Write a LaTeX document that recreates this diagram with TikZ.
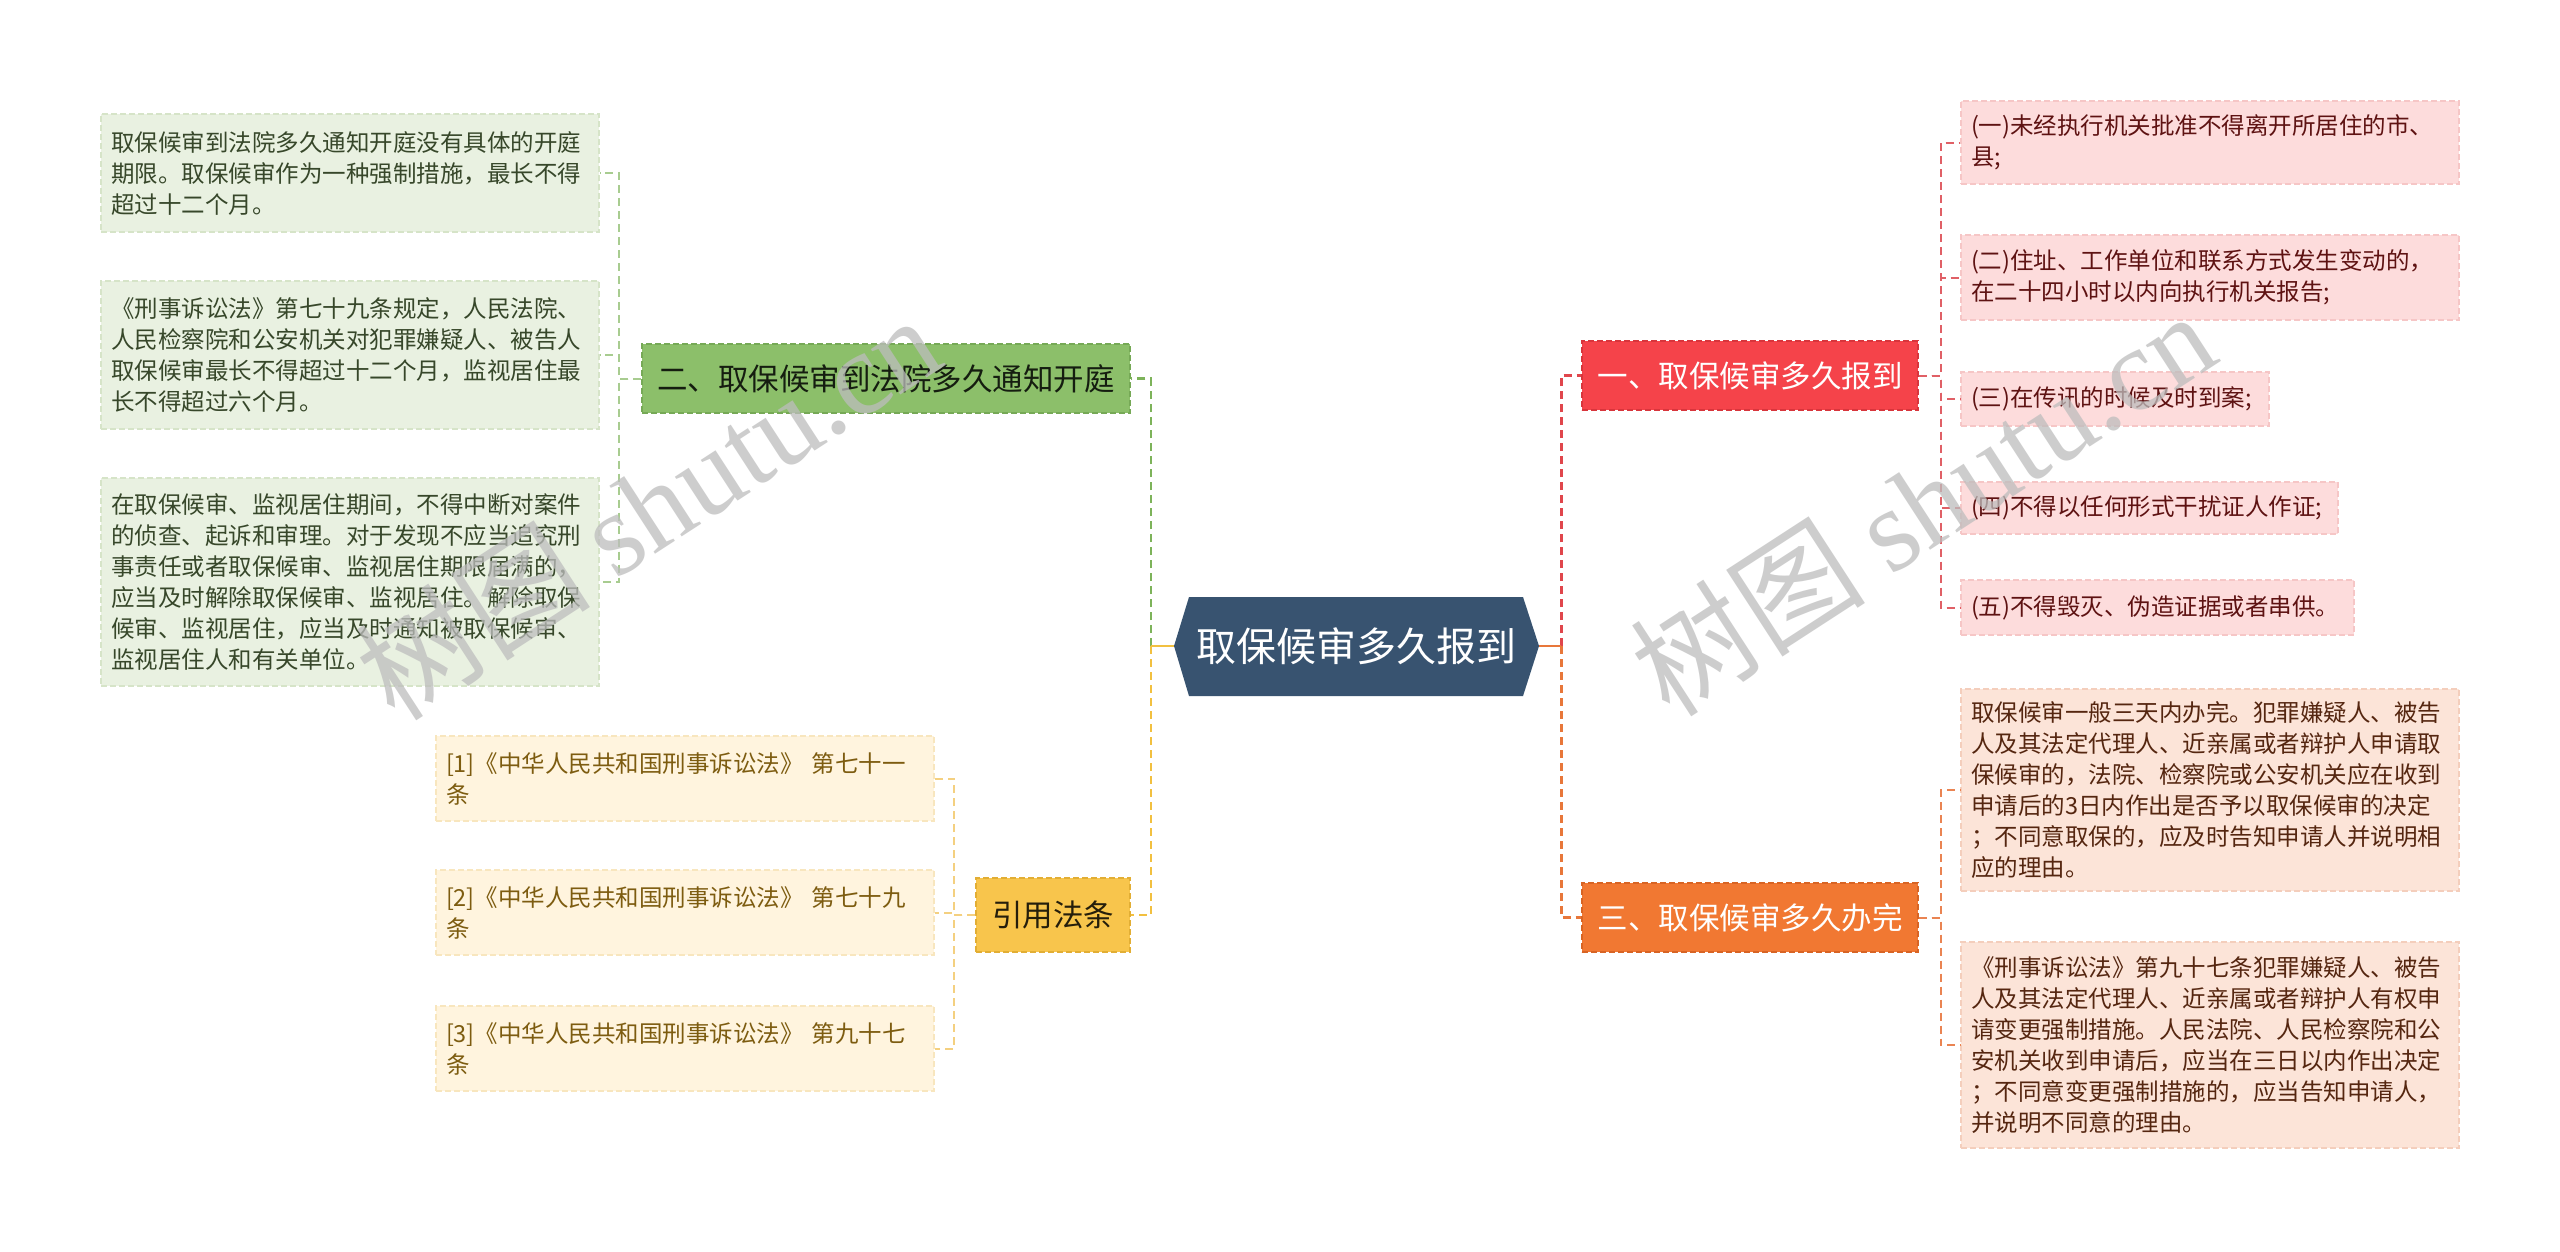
\documentclass[tikz,border=0pt]{standalone}
\usepackage{fontspec}
\setmainfont{Noto Sans CJK SC}
\newfontfamily\wmlatin{Liberation Serif}
\usetikzlibrary{calc}
\definecolor{hexfill}{HTML}{385370}
\definecolor{redB}{HTML}{F5434A}
\definecolor{redBd}{HTML}{D8353C}
\definecolor{oraB}{HTML}{F17832}
\definecolor{oraBd}{HTML}{D86424}
\definecolor{grnB}{HTML}{8CBF6A}
\definecolor{grnBd}{HTML}{76A956}
\definecolor{yelB}{HTML}{F8C54C}
\definecolor{yelBd}{HTML}{E2AE34}
\definecolor{redL}{HTML}{FDDCDC}
\definecolor{redLd}{HTML}{F6C6C6}
\definecolor{redT}{HTML}{5E1212}
\definecolor{oraL}{HTML}{FCE4D8}
\definecolor{oraLd}{HTML}{F4CEBC}
\definecolor{oraT}{HTML}{552610}
\definecolor{grnL}{HTML}{E9F1E1}
\definecolor{grnLd}{HTML}{D6E4C8}
\definecolor{grnT}{HTML}{37472A}
\definecolor{yelL}{HTML}{FFF4DE}
\definecolor{yelLd}{HTML}{F8E6BE}
\definecolor{yelT}{HTML}{7D5C10}
\definecolor{cR}{HTML}{E0464C}
\definecolor{cO}{HTML}{E8773A}
\definecolor{cG}{HTML}{7DB35A}
\definecolor{cY}{HTML}{F2C040}
\definecolor{lR}{HTML}{E06066}
\definecolor{lO}{HTML}{EA8452}
\definecolor{lG}{HTML}{A8CC90}
\definecolor{lY}{HTML}{F4D080}
\definecolor{wmgray}{HTML}{BDBDBD}
\tikzset{
  boxbase/.style={rectangle, draw, line width=1.3pt, dash pattern=on 6pt off 3pt},
  leafbox/.style={boxbase, inner xsep=10pt, inner ysep=0pt, align=left,
     font=\fontsize{23.5}{31}\selectfont},
  rleaf/.style={leafbox, fill=redL, draw=redLd, text=redT},
  oleaf/.style={leafbox, fill=oraL, draw=oraLd, text=oraT},
  gleaf/.style={leafbox, fill=grnL, draw=grnLd, text=grnT},
  yleaf/.style={leafbox, fill=yelL, draw=yelLd, text=yelT},
  branch/.style={boxbase, inner sep=0pt, font=\fontsize{30.5}{36}\selectfont,
     minimum height=69pt},
  mainline/.style={line width=2.6pt, dash pattern=on 8pt off 5pt},
  stubline/.style={line width=2.8pt, solid},
  leafline/.style={line width=2pt, dash pattern=on 8pt off 5pt},
  wm/.style={text=wmgray, opacity=0.75, font=\fontsize{118}{130}\selectfont, inner sep=0pt}
}
\begin{document}
\begin{tikzpicture}[x=1pt,y=-1pt]
\useasboundingbox[fill=white] (0,0) rectangle (2560,1251);

% centre hexagon
\fill[hexfill] (1174,646) -- (1189,597) -- (1523,597) -- (1539,646) -- (1523,696) -- (1189,696) -- cycle;
\node[inner sep=0pt, minimum width=365pt, minimum height=99pt, text=white,
      font=\fontsize{40}{46}\selectfont] (C) at (1356.5,646) {取保候审多久报到};

% branches
\node[branch, fill=redB, draw=redBd, text=white, minimum width=336pt] (B1) at (1750,375.5) {一、取保候审多久报到};
\node[branch, fill=oraB, draw=oraBd, text=white, minimum width=336pt] (B3) at (1750,917.5) {三、取保候审多久办完};
\node[branch, fill=grnB, draw=grnBd, text=black!85!grnB, minimum width=488pt] (B2) at (886,378.5) {二、取保候审到法院多久通知开庭};
\node[branch, fill=yelB, draw=yelBd, text=black!85!yelB, minimum width=154pt, minimum height=74pt] (B4) at (1053,915) {引用法条};

% red leaves
\node[rleaf, text width=478pt, minimum height=83pt] (R1) at (2210,142.5) {(一)未经执行机关批准不得离开所居住的市、\\县;};
\node[rleaf, text width=478pt, minimum height=85pt] (R2) at (2210,277.5) {(二)住址、工作单位和联系方式发生变动的，\\在二十四小时以内向执行机关报告;};
\node[rleaf, text width=288pt, minimum height=54pt] (R3) at (2115,399) {(三)在传讯的时候及时到案;};
\node[rleaf, text width=357pt, minimum height=52pt] (R4) at (2149.5,508) {(四)不得以任何形式干扰证人作证;};
\node[rleaf, text width=373pt, minimum height=55pt] (R5) at (2157.5,607.5) {(五)不得毁灭、伪造证据或者串供。};

% orange leaves
\node[oleaf, text width=478pt, minimum height=202pt] (P1) at (2210,790) {取保候审一般三天内办完。犯罪嫌疑人、被告\\人及其法定代理人、近亲属或者辩护人申请取\\保候审的，法院、检察院或公安机关应在收到\\申请后的3日内作出是否予以取保候审的决定\\；不同意取保的，应及时告知申请人并说明相\\应的理由。};
\node[oleaf, text width=478pt, minimum height=206pt] (P2) at (2210,1045) {《刑事诉讼法》第九十七条犯罪嫌疑人、被告\\人及其法定代理人、近亲属或者辩护人有权申\\请变更强制措施。人民法院、人民检察院和公\\安机关收到申请后，应当在三日以内作出决定\\；不同意变更强制措施的，应当告知申请人，\\并说明不同意的理由。};

% green leaves
\node[gleaf, text width=478pt, minimum height=118pt] (L1) at (350,173) {取保候审到法院多久通知开庭没有具体的开庭\\期限。取保候审作为一种强制措施，最长不得\\超过十二个月。};
\node[gleaf, text width=478pt, minimum height=148pt] (L2) at (350,355) {《刑事诉讼法》第七十九条规定，人民法院、\\人民检察院和公安机关对犯罪嫌疑人、被告人\\取保候审最长不得超过十二个月，监视居住最\\长不得超过六个月。};
\node[gleaf, text width=478pt, minimum height=208pt] (L3) at (350,582) {在取保候审、监视居住期间，不得中断对案件\\的侦查、起诉和审理。对于发现不应当追究刑\\事责任或者取保候审、监视居住期限届满的，\\应当及时解除取保候审、监视居住。解除取保\\候审、监视居住，应当及时通知被取保候审、\\监视居住人和有关单位。};

% yellow leaves
\node[yleaf, text width=478pt, minimum height=85pt] (Y1) at (685,778.5) {[1]《中华人民共和国刑事诉讼法》 第七十一\\条};
\node[yleaf, text width=478pt, minimum height=85pt] (Y2) at (685,912.5) {[2]《中华人民共和国刑事诉讼法》 第七十九\\条};
\node[yleaf, text width=478pt, minimum height=85pt] (Y3) at (685,1048.5) {[3]《中华人民共和国刑事诉讼法》 第九十七\\条};

% junctions
\coordinate (jR) at ($(C.east)+(22,0)$);
\coordinate (jL) at ($(C.west)+(-23,0)$);

% main connectors
\draw[mainline, cR] (jR) |- (B1.west);
\draw[mainline, cO] (jR) |- (B3.west);
\draw[mainline, cG] (jL) |- (B2.east);
\draw[mainline, cY] (jL) |- (B4.east);
\draw[stubline, cO] (C.east) -- (jR);
\draw[stubline, cY] (C.west) -- (jL);

% leaf connectors
\foreach \n in {R1,R2,R3,R4,R5}{\draw[leafline, lR] (B1.east) -- ++(22,0) |- (\n.west);}
\foreach \n in {P1,P2}{\draw[leafline, lO] (B3.east) -- ++(22,0) |- (\n.west);}
\foreach \n in {L1,L2,L3}{\draw[leafline, lG] (B2.west) -- ++(-22,0) |- (\n.east);}
\foreach \n in {Y1,Y2,Y3}{\draw[leafline, lY] (B4.west) -- ++(-21,0) |- (\n.east);}

% watermarks
\node[wm, rotate=33] (W1) at (647,506) {树图 {\wmlatin shutu.cn}};
\node[wm, rotate=33] (W2) at (1922,502) {树图 {\wmlatin shutu.cn}};
\end{tikzpicture}
\end{document}
